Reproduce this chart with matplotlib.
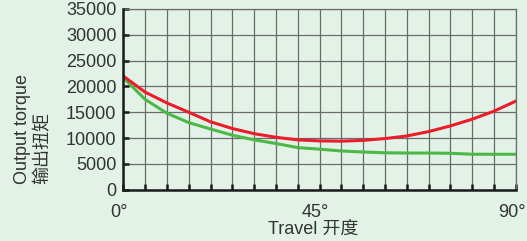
import matplotlib
matplotlib.use("Agg")
import matplotlib.pyplot as plt
import matplotlib.transforms as mtransforms

plt.rcParams['font.family'] = ['Liberation Sans', 'Noto Sans CJK SC', 'DejaVu Sans']

travel = [0, 5, 10, 15, 20, 25, 30, 35, 40, 45, 50, 55, 60, 65, 70, 75, 80, 85, 90]
red_torque = [22000, 18900, 16800, 15000, 13150, 11850, 10850, 10150, 9650, 9450,
              9400, 9550, 9900, 10400, 11250, 12350, 13650, 15200, 17150]
green_torque = [21700, 17500, 14800, 13000, 11750, 10550, 9650, 8950, 8150, 7850,
                7500, 7300, 7150, 7100, 7100, 7050, 6870, 6860, 6860]

xticks = [0, 45, 90]
xtick_labels = ["0°", "45°", "90°"]
yticks = [0, 5000, 10000, 15000, 20000, 25000, 30000, 35000]

bg = '#e2f2e7'
text_color = '#333333'
grid_color = '#6b6b6b'

fig = plt.figure(figsize=(5.27, 2.41), dpi=100, facecolor=bg)
ax = fig.add_axes([0.234, 0.2129, 0.7446, 0.7498])
ax.set_facecolor(bg)

ax.set_xlim(0, 90)
ax.set_ylim(0, 35000)

# grid
ax.set_xticks(range(0, 91, 5), minor=True)
ax.set_yticks(yticks)
ax.set_xticks(xticks)
ax.grid(True, which='both', color=grid_color, linewidth=0.9)
ax.set_axisbelow(True)

ax.plot(travel, green_torque, color='#4cb848', linewidth=2.2, zorder=3,
        solid_joinstyle='round')
ax.plot(travel, red_torque, color='#ec1c2b', linewidth=2.2, zorder=4,
        solid_joinstyle='round')

for s in ['top', 'right']:
    ax.spines[s].set_color(grid_color)
    ax.spines[s].set_linewidth(0.9)
for s in ['left', 'bottom']:
    ax.spines[s].set_color('#1a1a1a')
    ax.spines[s].set_linewidth(1.8)
    ax.spines[s].set_zorder(5)

ax.tick_params(axis='y', which='major', direction='in', length=4, width=1.8,
               color='#1a1a1a', labelsize=13, labelcolor=text_color, pad=5)
ax.tick_params(axis='x', which='both', direction='in', length=4, width=1.8,
               color='#1a1a1a', labelsize=13, labelcolor=text_color, pad=10)
ax.set_xticklabels(xtick_labels)
ax.set_yticklabels([str(v) for v in yticks])

offset = mtransforms.ScaledTranslation(-4 / 100, 0, fig.dpi_scale_trans)
for lab in ax.get_xticklabels():
    lab.set_transform(lab.get_transform() + offset)

fig.text(0.5935, 1 - 220.5 / 241, "Travel 开度", ha='center', va='top',
         fontsize=13, color=text_color)
fig.text(32.5 / 527, 1 - 128.5 / 241, "Output torque\n输出扭矩", rotation=90,
         ha='center', va='center', multialignment='left', fontsize=13,
         color=text_color, linespacing=1.25)

fig.savefig('out.png', dpi=100, facecolor=bg)
